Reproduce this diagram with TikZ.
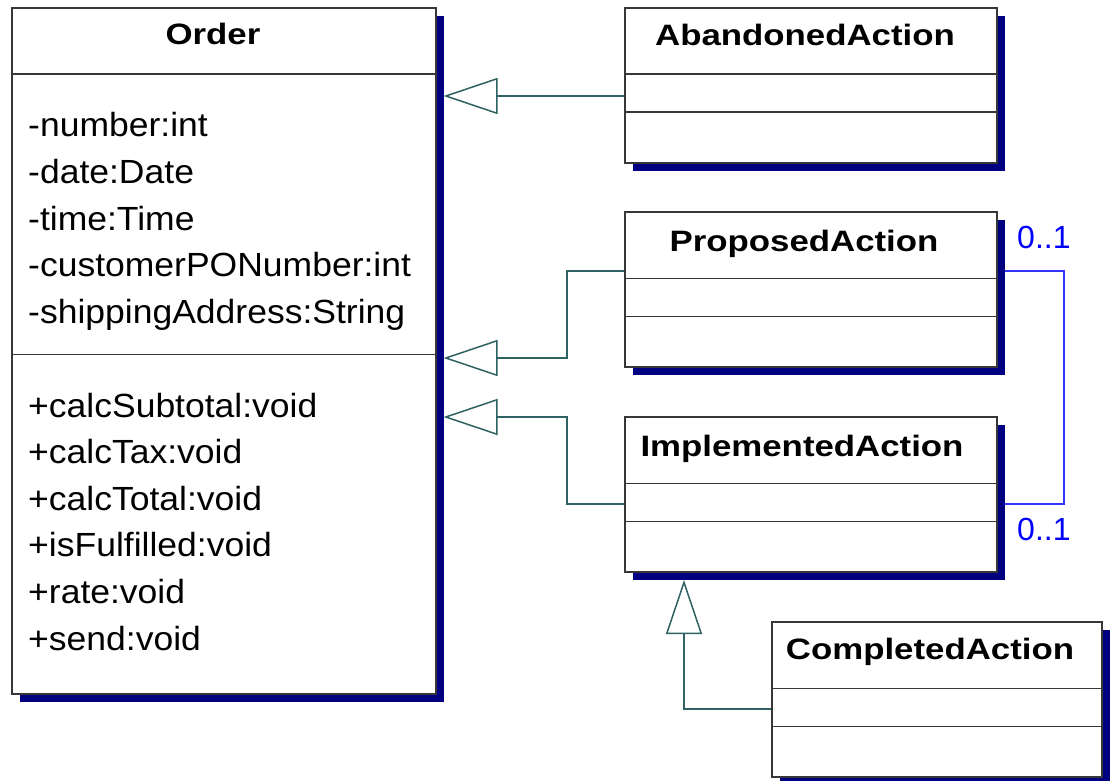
\documentclass[tikz,border=0pt]{standalone}
\usepackage{fontspec}
\setmainfont{Liberation Sans}
\newfontfamily\attrfont[FakeStretch=1.06]{Liberation Sans}
\newfontfamily\titlefont[FakeStretch=1.18]{Liberation Sans}
\newfontfamily\multfont{Liberation Sans}
\usetikzlibrary{arrows.meta,shadows}
\definecolor{shadownavy}{RGB}{0,0,128}
\definecolor{gencol}{RGB}{47,98,98}
\definecolor{assoccol}{RGB}{51,51,255}
\definecolor{multcol}{RGB}{0,0,255}
\definecolor{boxline}{RGB}{55,55,55}
\tikzset{
  classbox/.style={draw=boxline, line width=1.5pt, fill=white, inner sep=0pt,
    drop shadow={shadow xshift=8pt, shadow yshift=-8pt, fill=shadownavy, opacity=1}},
  compline/.style={draw=boxline, line width=1.5pt},
  classtitle/.style={anchor=base, inner sep=0pt, font=\titlefont\bfseries\fontsize{29.5}{35}\selectfont},
  member/.style={anchor=base west, inner sep=0pt, font=\attrfont\fontsize{33.5}{40}\selectfont},
  gen/.style={draw=gencol, line width=1.5pt, -{Triangle[open, length=54pt, width=36pt, fill=white]}},
  assoc/.style={draw=assoccol, line width=1.5pt},
  mult/.style={anchor=base west, inner sep=0pt, text=multcol, font=\multfont\fontsize{32}{38}\selectfont}
}
\begin{document}
\begin{tikzpicture}[x=1pt,y=-1pt]
\useasboundingbox (0,0) rectangle (1111,781);
% class boxes
\node[classbox, minimum width=424pt, minimum height=686pt] (order) at (224,351) {};
\node[classbox, minimum width=372pt, minimum height=155pt] (abandoned) at (811,85.5) {};
\node[classbox, minimum width=372pt, minimum height=155pt] (proposed) at (811,289.5) {};
\node[classbox, minimum width=372pt, minimum height=155pt] (implemented) at (811,494.5) {};
\node[classbox, minimum width=330pt, minimum height=155pt] (completed) at (937,699.5) {};
% compartments
\draw[compline] (order.north west) ++(0,67) -- ++(424,0);
\draw[compline] (order.north west) ++(0,347) -- ++(424,0);
\foreach \b/\w in {abandoned/372,proposed/372,implemented/372,completed/330}{
  \draw[compline] (\b.north west) ++(0,67) -- ++(\w,0);
  \draw[compline] (\b.north west) ++(0,105) -- ++(\w,0);
}
% titles
\node[classtitle] (ordertitle) at (213,45) {Order};
\node[classtitle] (abandonedtitle) at (805,46) {AbandonedAction};
\node[classtitle] (proposedtitle) at (804,251) {ProposedAction};
\node[classtitle] (implementedtitle) at (802,456) {ImplementedAction};
\node[classtitle] (completedtitle) at (930,659) {CompletedAction};
% attributes
\foreach \t [count=\i] in {-number:int,-date:Date,-time:Time,-customerPONumber:int,-shippingAddress:String}
  \node[member] (attr\i) at (28,{137+46.5*(\i-1)}) {\t};
% operations
\foreach \t [count=\i] in {+calcSubtotal:void,+calcTax:void,+calcTotal:void,+isFulfilled:void,+rate:void,+send:void}
  \node[member] (op\i) at (28,{417+46.6*(\i-1)}) {\t};
% generalization tips
\coordinate (tipA) at (443.5,96);
\coordinate (tipP) at (443.5,358);
\coordinate (tipI) at (443.5,417);
\coordinate (tipC) at (684,580);
% generalizations
\draw[gen] (abandoned.west |- tipA) -- (tipA);
\draw[gen] (proposed.west |- 0,271) -| (567,358) -- (tipP);
\draw[gen] (implemented.west |- 0,504) -| (567,417) -- (tipI);
\draw[gen] (completed.west |- 0,709) -| (tipC);
% association
\coordinate (assocR) at (1064,271);
\draw[assoc] ([xshift=7pt]proposed.east |- assocR) -- (assocR) -- (assocR |- 0,504) -- ([xshift=7pt]implemented.east |- 0,504);
\node[mult] (multP) at (1017,248) {0..1};
\node[mult] (multI) at (1017,540) {0..1};
\end{tikzpicture}
\end{document}
